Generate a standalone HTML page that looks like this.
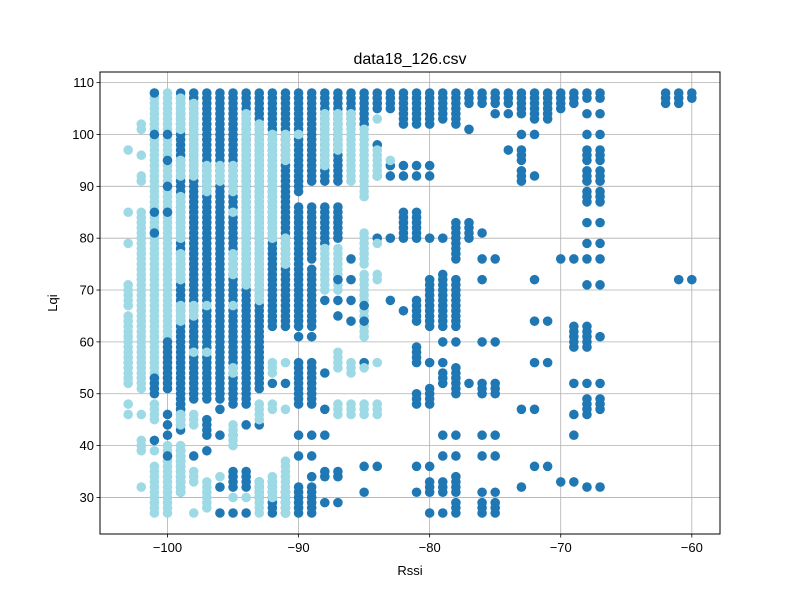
<!DOCTYPE html>
<html><head><meta charset="utf-8"><style>
body{margin:0;background:#fff;}
svg text{font-family:"Liberation Sans","DejaVu Sans",sans-serif;}
</style></head><body>
<svg id="chart" width="800" height="600" viewBox="0 0 800 600" xmlns="http://www.w3.org/2000/svg">
<rect width="800" height="600" fill="#fff"/>
<defs><clipPath id="clip"><rect x="100" y="72" width="620" height="462"/></clipPath></defs>
<g id="grid"></g>
<g id="marks" clip-path="url(#clip)"></g>
<rect x="100" y="72" width="620" height="462" fill="none" stroke="#000" stroke-width="1"/>
<g id="ticks"></g>
<text x="410" y="64" text-anchor="middle" font-size="16">data18_126.csv</text>
<text x="410" y="575" text-anchor="middle" font-size="13">Rssi</text>
<text x="57" y="303" text-anchor="middle" font-size="13" transform="rotate(-90 57 303)">Lqi</text>
</svg>
<script>
const xTicks=[-100,-90,-80,-70,-60];
const yTicks=[30,40,50,60,70,80,90,100,110];
// [rssi, lqiLow, lqiHigh]
const darkSegs=[
[-99,47,108],[-99,43,48],[-99,31,39],
[-98,49,108],[-98,38,38],
[-97,49,108],[-97,42,45],[-97,39,39],
[-96,49,108],[-96,47,47],[-96,42,42],[-96,32,32],[-96,27,27],
[-95,48,108],[-95,42,42],[-95,32,35],[-95,27,27],
[-94,48,108],[-94,44,44],[-94,32,35],[-94,27,27],
[-93,51,108],[-93,44,44],[-93,30,33],
[-92,63,108],[-92,52,52],[-92,27,33],
[-91,63,108],[-91,52,52],[-91,27,31],
[-90,89,108],[-90,63,86],[-90,61,61],[-90,48,56],[-90,42,42],[-90,38,38],[-90,27,32],
[-89,91,108],[-89,80,86],[-89,76,79],[-89,63,74],[-89,61,61],[-89,48,56],[-89,42,42],[-89,38,38],[-89,34,34],[-89,27,32],
[-88,91,108],[-88,80,86],[-88,79,79],[-88,54,54],[-88,47,47],[-88,42,42],[-88,34,35],[-88,29,29],
[-87,91,108],[-87,80,86],[-87,34,35],[-87,29,29],
[-86,102,108],
[-85,102,108],[-85,56,56],[-85,36,36],[-85,31,31],
[-84,105,108],[-84,98,98],[-84,92,92],[-84,80,80],[-84,36,36],
[-83,105,108],[-83,94,94],[-83,92,92],[-83,80,80],[-83,68,68],
[-82,102,108],[-82,94,94],[-82,92,92],[-82,80,85],[-82,66,66],
[-81,102,108],[-81,94,94],[-81,92,92],[-81,80,85],[-81,64,68],[-81,56,59],[-81,48,50],[-81,36,36],[-81,31,31],
[-80,102,108],[-80,94,94],[-80,92,92],[-80,80,80],[-80,63,72],[-80,56,56],[-80,48,51],[-80,36,36],[-80,31,33],[-80,27,27],
[-79,103,108],[-79,80,80],[-79,63,73],[-79,60,60],[-79,56,56],[-79,52,54],[-79,42,42],[-79,38,38],[-79,31,33],[-79,27,27],
[-78,102,108],[-78,76,83],[-78,63,72],[-78,60,60],[-78,50,55],[-78,42,42],[-78,38,38],[-78,31,34],[-78,27,29],
[-77,106,108],[-77,101,101],[-77,80,83],[-77,52,52],
[-76,106,108],[-76,81,81],[-76,76,76],[-76,72,72],[-76,60,60],[-76,50,52],[-76,42,42],[-76,38,38],[-76,31,31],[-76,27,29],
[-75,106,108],[-75,104,104],[-75,76,76],[-75,60,60],[-75,50,52],[-75,42,42],[-75,38,38],[-75,31,31],[-75,27,29],
[-74,106,108],[-74,104,104],[-74,97,97],
[-73,104,108],[-73,100,100],[-73,95,97],[-73,91,93],[-73,47,47],[-73,32,32],
[-72,103,108],[-72,100,100],[-72,92,92],[-72,72,72],[-72,64,64],[-72,56,56],[-72,47,47],[-72,36,36],
[-71,103,108],[-71,64,64],[-71,56,56],[-71,36,36],
[-70,105,108],[-70,76,76],[-70,33,33],
[-69,106,108],[-69,76,76],[-69,59,63],[-69,52,52],[-69,46,46],[-69,42,42],[-69,33,33],
[-68,107,108],[-68,104,104],[-68,100,100],[-68,95,97],[-68,91,93],[-68,87,89],[-68,83,83],[-68,79,79],[-68,76,76],[-68,71,71],[-68,59,63],[-68,52,52],[-68,46,49],[-68,32,32],
[-67,107,108],[-67,104,104],[-67,100,100],[-67,95,97],[-67,91,93],[-67,87,89],[-67,83,83],[-67,79,79],[-67,76,76],[-67,71,71],[-67,61,61],[-67,52,52],[-67,47,49],[-67,32,32],
[-62,106,108],[-61,106,108],[-61,72,72],[-60,107,108],[-60,72,72]
];
const lightSegs=[
[-103,97,97],[-103,85,85],[-103,79,79],[-103,67,71],[-103,62,65],[-103,57,61],[-103,52,56],[-103,48,48],[-103,46,46],
[-102,101,102],[-102,96,96],[-102,91,92],[-102,51,85],[-102,46,46],[-102,39,41],[-102,32,32],
[-101,51,108],[-101,45,48],[-101,39,39],[-101,27,36],
[-100,61,108],[-100,27,40],
[-99,101,107],[-99,92,95],[-99,80,88],[-99,72,77],[-99,64,67],[-99,44,46],[-99,31,40],
[-98,92,106],[-98,65,67],[-98,58,58],[-98,44,46],[-98,33,35],[-98,27,27],
[-97,89,94],[-97,67,67],[-97,58,58],[-97,28,33],
[-96,91,94],[-96,34,34],
[-95,89,94],[-95,85,85],[-95,73,77],[-95,67,67],[-95,54,55],[-95,40,44],[-95,30,30],
[-94,71,104],[-94,30,30],
[-93,68,102],[-93,45,48],[-93,28,33],[-93,27,27],
[-92,80,100],[-92,54,56],[-92,47,48],[-92,30,34],
[-91,95,100],[-91,75,80],[-91,56,56],[-91,47,47],[-91,27,37],
[-90,100,100],
[-88,94,104],[-88,70,78],
[-87,97,104],[-87,70,78],[-87,55,58],[-87,46,48],
[-86,91,104],[-86,54,56],[-86,46,48],
[-85,88,101],[-85,75,81],[-85,61,73],[-85,55,55],[-85,46,48],
[-84,103,103],[-84,92,97],[-84,79,79],[-84,72,73],[-84,56,56],[-84,46,48],
[-83,95,95]
];
const darkTopSegs=[
[-101,108,108],[-101,100,100],[-101,85,85],[-101,81,81],[-101,50,53],[-101,41,41],
[-100,100,100],[-100,95,95],[-100,90,90],[-100,85,85],[-100,51,60],[-100,46,46],[-100,44,44],[-100,42,42],[-100,38,38],
[-88,68,68],[-87,72,72],[-87,68,68],[-87,65,65],
[-86,76,76],[-86,72,72],[-86,68,68],[-86,64,64],[-85,67,67],[-85,64,64]
];
const X0=-105.15,X1=-57.85,Y0=22.95,Y1=112.05;
const PL=100,PR=720,PT=72,PB=534;
function xs(v){return PL+(v-X0)/(X1-X0)*(PR-PL);}
function ys(v){return PB-(v-Y0)/(Y1-Y0)*(PB-PT);}
const NS="http://www.w3.org/2000/svg";
const grid=document.getElementById('grid'),ticks=document.getElementById('ticks'),marks=document.getElementById('marks');
function mk(tag,attrs,parent){const e=document.createElementNS(NS,tag);for(const k in attrs)e.setAttribute(k,attrs[k]);parent.appendChild(e);return e;}
xTicks.forEach(t=>{const x=xs(t);
 const g=mk('line',{x1:x,x2:x,y1:PT,y2:PB,stroke:'#b0b0b0','stroke-width':0.8},grid);
 
 
 mk('line',{x1:x,x2:x,y1:PB,y2:PB+3.5,stroke:'#000','stroke-width':0.8},ticks);
 const tx=mk('text',{x:x,y:PB+18,'text-anchor':'middle','font-size':13},ticks);tx.textContent='\u2212'+Math.abs(t);
 
 
});
yTicks.forEach(t=>{const y=ys(t);
 const g=mk('line',{x1:PL,x2:PR,y1:y,y2:y,stroke:'#b0b0b0','stroke-width':0.8},grid);
 
 
 mk('line',{x1:PL-3.5,x2:PL,y1:y,y2:y,stroke:'#000','stroke-width':0.8},ticks);
 const tx=mk('text',{x:PL-6,y:y+4.5,'text-anchor':'end','font-size':13},ticks);tx.textContent=t;
 
 
});
function draw(segs,color,name){segs.forEach(s=>{for(let q=s[1];q<=s[2];q++){
 const c=mk('circle',{cx:xs(s[0]),cy:ys(q),r:4.8,fill:color},marks);
 
 
}});}
draw(darkSegs,'#1f77b4','point-dark');
draw(lightSegs,'#9edae5','point-light');
draw(darkTopSegs,'#1f77b4','point-dark');
</script>
</body></html>
